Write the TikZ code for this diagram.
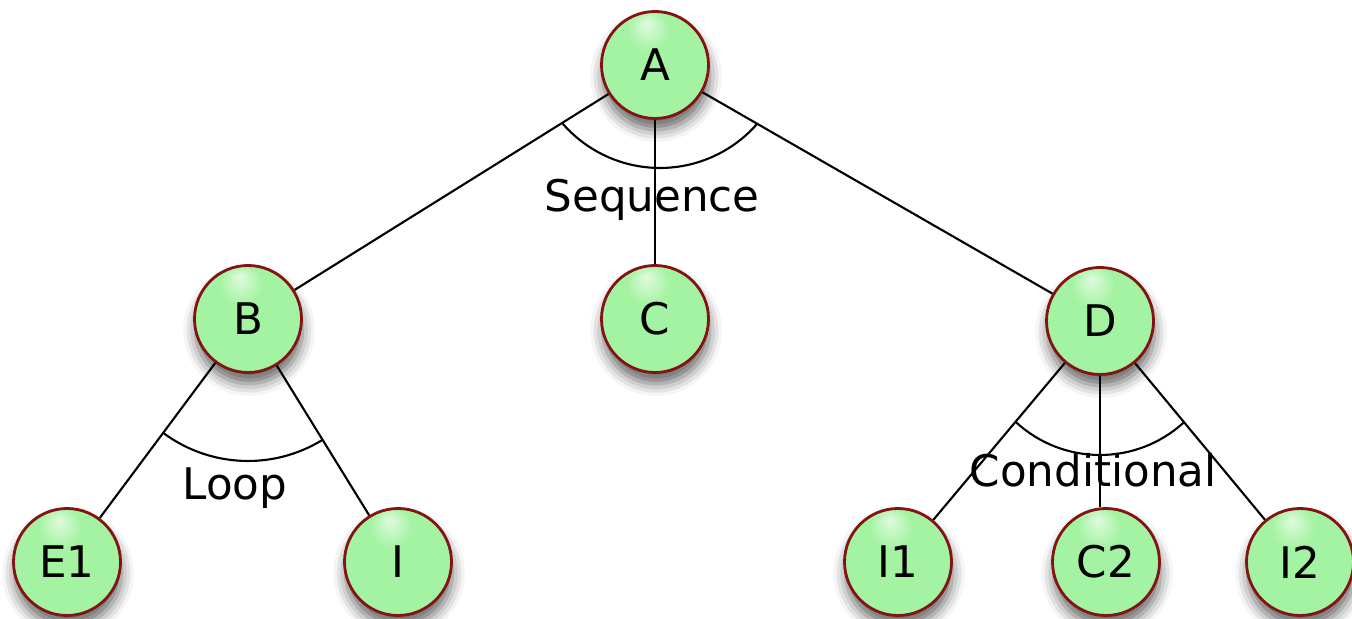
\documentclass[tikz,border=0pt]{standalone}
\usepackage{fontspec}
\setmainfont{DejaVu Sans}
\usepackage{tikz}
\usetikzlibrary{shadows.blur}
\usepackage{xcolor}

\definecolor{ballgreen}{RGB}{164,243,162}
\definecolor{ballrim}{RGB}{130,20,20}
\pgfdeclareradialshading{glossy}{\pgfpoint{-4bp}{20bp}}{%
  color(0bp)=(white!65!ballgreen); color(10bp)=(ballgreen);
  color(36bp)=(ballgreen); color(50bp)=(ballgreen!82!black)}

\tikzset{
  bub/.style={circle, draw=ballrim, line width=0.8pt, shading=glossy,
    minimum size=1.07cm, inner sep=0pt, font=\fontsize{12.4}{14}\selectfont,
    blur shadow={shadow xshift=0.3pt, shadow yshift=-3.2pt,
      shadow blur radius=3.5pt, shadow opacity=60}},
  lbl/.style={font=\fontsize{12.4}{14}\selectfont},
  link/.style={line width=0.6pt}
}

\begin{document}
\begin{tikzpicture}
  \useasboundingbox (0,0) rectangle (13.52,-6.19);
  % the tree
  \node[bub] (A)  at (6.55,-0.65) {A};
  \node[bub] (B)  at (2.48,-3.19) {B};
  \node[bub] (C)  at (6.55,-3.19) {C};
  \node[bub] (D)  at (11.00,-3.21) {D};
  \node[bub] (E1) at (0.67,-5.62) {E1};
  \node[bub] (I)  at (3.98,-5.62) {I};
  \node[bub] (I1) at (8.98,-5.62) {I1};
  \node[bub] (C2) at (11.06,-5.62) {C2};
  \node[bub] (I2) at (13.00,-5.62) {I2};

  \draw[link] (A) -- (B);
  \draw[link] (A) -- (C);
  \draw[link] (A) -- (D);
  \draw[link] (B) -- (E1);
  \draw[link] (B) -- (I);
  \draw[link] (D) -- (I1);
  \draw[link] (D) -- (D |- C2.north);
  \draw[link] (D) -- (I2);

  % arcs grouping the children
  \draw[link] ([shift={(0.05,0.26)}]A.center) ++(220.6:1.29)
    arc[start angle=220.6, end angle=318.8, radius=1.29];
  \draw[link] (B.center) ++(233.3:1.42)
    arc[start angle=233.3, end angle=301.7, radius=1.42];
  \draw[link] ([shift={(0,-0.10)}]D.center) ++(227:1.24)
    arc[start angle=227, end angle=312.5, radius=1.24];

  \node[lbl] (seq)  at (6.52,-2.00) {Sequence};
  \node[lbl] (loop) at (2.35,-4.88) {Loop};
  \node[lbl] (cond) at (10.93,-4.70) {Conditional};
\end{tikzpicture}
\end{document}
